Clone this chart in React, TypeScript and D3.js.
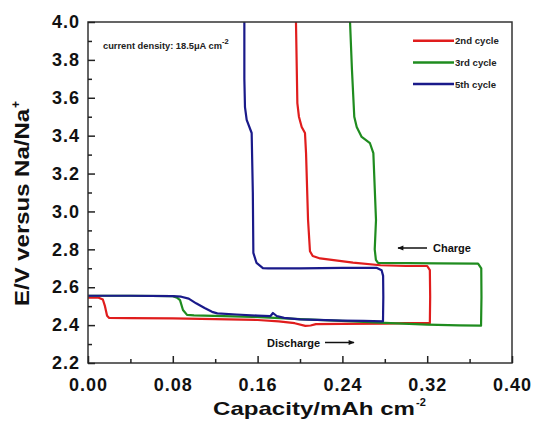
import React, { useRef, useEffect } from 'react';
import * as d3 from 'd3';

// capacity (mAh cm-2) / voltage (V) pairs
const cycle2DischargeCap = [0, 0.01, 0.014, 0.016, 0.018, 0.02, 0.04, 0.08, 0.12, 0.16, 0.18, 0.195, 0.205, 0.21, 0.215, 0.24, 0.28, 0.30, 0.3225];
const cycle2DischargeV = [2.545, 2.545, 2.535, 2.5, 2.45, 2.438, 2.437, 2.436, 2.432, 2.427, 2.42, 2.41, 2.396, 2.398, 2.405, 2.406, 2.408, 2.41, 2.41];
const cycle2ChargeCap = [0.3225, 0.3228, 0.3225, 0.32, 0.30, 0.276, 0.25, 0.219, 0.212, 0.2094, 0.2076, 0.2057, 0.2047, 0.2016, 0.199, 0.1975, 0.1962];
const cycle2ChargeV = [2.41, 2.55, 2.69, 2.712, 2.712, 2.716, 2.73, 2.752, 2.765, 2.79, 2.955, 3.308, 3.414, 3.446, 3.5, 3.572, 4.0];

const cycle3DischargeCap = [0, 0.04, 0.08, 0.084, 0.0868, 0.0896, 0.0934, 0.1, 0.155, 0.2, 0.25, 0.28, 0.32, 0.35, 0.3708];
const cycle3DischargeV = [2.555, 2.555, 2.553, 2.545, 2.532, 2.48, 2.454, 2.451, 2.444, 2.432, 2.42, 2.412, 2.403, 2.399, 2.397];
const cycle3ChargeCap = [0.3708, 0.3712, 0.371, 0.368, 0.33, 0.2736, 0.2716, 0.2705, 0.2717, 0.2692, 0.266, 0.2582, 0.2535, 0.2512, 0.249, 0.2472];
const cycle3ChargeV = [2.397, 2.55, 2.7, 2.725, 2.726, 2.728, 2.744, 2.8, 2.955, 3.308, 3.36, 3.393, 3.446, 3.5, 3.75, 4.0];

const cycle5DischargeCap = [0, 0.04, 0.08, 0.088, 0.095, 0.102, 0.11, 0.117, 0.122, 0.14, 0.16, 0.172, 0.1745, 0.178, 0.185, 0.2, 0.24, 0.26, 0.2783];
const cycle5DischargeV = [2.555, 2.555, 2.553, 2.55, 2.54, 2.515, 2.49, 2.47, 2.462, 2.456, 2.45, 2.447, 2.464, 2.448, 2.438, 2.43, 2.424, 2.422, 2.42];
const cycle5ChargeCap = [0.2783, 0.2786, 0.2784, 0.277, 0.2726, 0.24, 0.2, 0.17, 0.165, 0.159, 0.156, 0.1555, 0.1544, 0.1497, 0.1481, 0.1475, 0.1475];
const cycle5ChargeV = [2.42, 2.55, 2.66, 2.69, 2.702, 2.702, 2.7, 2.699, 2.701, 2.728, 2.781, 3.1, 3.414, 3.483, 3.551, 3.7, 4.0];

const seriesNames = ['2nd cycle', '3rd cycle', '5th cycle'];
const seriesColors = ['#e01d1d', '#1f8c1f', '#1a1a8a'];

const xTicks = [0, 0.08, 0.16, 0.24, 0.32, 0.40];
const yTicks = [2.2, 2.4, 2.6, 2.8, 3.0, 3.2, 3.4, 3.6, 3.8, 4.0];

const FONT = '"Liberation Sans", Arial, sans-serif';

const zip = (xs: number[], ys: number[]) => xs.map((x, i) => [x, ys[i]] as [number, number]);

const App = () => {
  const ref = useRef<SVGSVGElement>(null);

  useEffect(() => {
    if (!ref.current) return;
    const svg = d3.select(ref.current);
    svg.selectAll('*').remove();

    const left = 88, right = 512, top = 22, bottom = 363;
    const x = d3.scaleLinear().domain([0, 0.4]).range([left, right]);
    const y = d3.scaleLinear().domain([2.2, 4.0]).range([bottom, top]);

    const defs = svg.append('defs');
    defs.append('clipPath').attr('id', 'plot-clip')
      .append('rect').attr('x', left).attr('y', top).attr('width', right - left).attr('height', bottom - top);
    defs.append('marker').attr('id', 'arrow').attr('viewBox', '0 0 10 10')
      .attr('refX', 9).attr('refY', 5).attr('markerWidth', 8).attr('markerHeight', 6)
      .attr('markerUnits', 'userSpaceOnUse').attr('orient', 'auto')
      .append('path').attr('d', 'M0,1 L10,5 L0,9 Z').attr('fill', '#111');

    // curves: discharge then charge, joined into one path per cycle
    const line = d3.line<[number, number]>().x(d => x(d[0])).y(d => y(d[1]));
    const curves = [
      [zip(cycle2DischargeCap, cycle2DischargeV), zip(cycle2ChargeCap, cycle2ChargeV)],
      [zip(cycle3DischargeCap, cycle3DischargeV), zip(cycle3ChargeCap, cycle3ChargeV)],
      [zip(cycle5DischargeCap, cycle5DischargeV), zip(cycle5ChargeCap, cycle5ChargeV)],
    ];
    const g = svg.append('g').attr('clip-path', 'url(#plot-clip)');
    curves.forEach((pair, i) => {
      g.append('path').attr('d', line(pair[0].concat(pair[1].slice(1))))
        .attr('fill', 'none').attr('stroke', seriesColors[i]).attr('stroke-width', 2.2)
        .attr('stroke-linejoin', 'round');
    });

    // frame
    svg.append('rect').attr('x', left).attr('y', top).attr('width', right - left).attr('height', bottom - top)
      .attr('fill', 'none').attr('stroke', '#333').attr('stroke-width', 1.5);

    // x axis
    const xMinor = d3.range(0.04, 0.4, 0.08);
    svg.append('g').attr('transform', `translate(0,${bottom})`)
      .call(d3.axisBottom(x).tickValues(xMinor).tickSize(-4).tickFormat(() => ''))
      .call(a => a.select('.domain').remove())
      .selectAll('line').attr('stroke', '#222').attr('stroke-width', 1.5);
    const xa = svg.append('g').attr('transform', `translate(0,${bottom})`)
      .call(d3.axisBottom(x).tickValues(xTicks).tickSize(-7).tickPadding(14).tickFormat(d3.format('.2f')));
    xa.select('.domain').remove();
    xa.selectAll('line').attr('stroke', '#222').attr('stroke-width', 1.5);
    xa.selectAll('text').attr('font-family', FONT).attr('font-weight', 'bold').attr('font-size', 18)
      .attr('letter-spacing', 1).attr('fill', '#111').attr('dy', '0.75em');

    // y axis
    const yMinor = d3.range(2.3, 4.0, 0.2);
    svg.append('g').attr('transform', `translate(${left},0)`)
      .call(d3.axisLeft(y).tickValues(yMinor).tickSize(-4).tickFormat(() => ''))
      .call(a => a.select('.domain').remove())
      .selectAll('line').attr('stroke', '#222').attr('stroke-width', 1.5);
    const ya = svg.append('g').attr('transform', `translate(${left},0)`)
      .call(d3.axisLeft(y).tickValues(yTicks).tickSize(-7).tickPadding(14).tickFormat(d3.format('.1f')));
    ya.select('.domain').remove();
    ya.selectAll('line').attr('stroke', '#222').attr('stroke-width', 1.5);
    ya.selectAll('text').attr('font-family', FONT).attr('font-weight', 'bold').attr('font-size', 18)
      .attr('letter-spacing', 1).attr('fill', '#111').attr('dx', 6);

    // axis titles
    svg.append('text').attr('x', 213).attr('y', 415).attr('font-family', FONT).attr('font-weight', 'bold')
      .attr('font-size', 19).attr('textLength', 202).attr('lengthAdjust', 'spacingAndGlyphs')
      .attr('fill', '#111').text('Capacity/mAh cm');
    svg.append('text').attr('x', 416).attr('y', 406).attr('font-family', FONT).attr('font-weight', 'bold')
      .attr('font-size', 11).attr('fill', '#111').text('-2');

    const yt = svg.append('g').attr('transform', 'translate(29,208) rotate(-90)');
    yt.append('text').attr('x', -98).attr('y', 0).attr('font-family', FONT).attr('font-weight', 'bold')
      .attr('font-size', 20).attr('textLength', 197).attr('lengthAdjust', 'spacingAndGlyphs')
      .attr('fill', '#111').text('E/V versus Na/Na');
    yt.append('text').attr('x', 100).attr('y', -9).attr('font-family', FONT).attr('font-weight', 'bold')
      .attr('font-size', 12).attr('fill', '#111').text('+');

    // annotation
    const note = svg.append('text').attr('x', 103).attr('y', 49).attr('font-family', FONT)
      .attr('font-weight', 'bold').attr('font-size', 9.3).attr('fill', '#222');
    note.append('tspan').text('current density: 18.5μA cm');
    note.append('tspan').attr('dy', -5).attr('font-size', 7.5).attr('fill', '#111').text('-2');

    // legend
    seriesNames.forEach((name, i) => {
      const ly = 40.7 + i * 21.7;
      svg.append('line').attr('x1', 413).attr('x2', 454).attr('y1', ly).attr('y2', ly)
        .attr('stroke', seriesColors[i]).attr('stroke-width', 2.5);
      svg.append('text').attr('x', 455).attr('y', ly + 3.5).attr('font-family', FONT).attr('font-weight', 'bold')
        .attr('font-size', 9.6).attr('fill', '#222').text(name);
    });

    // charge / discharge labels
    svg.append('line').attr('x1', 427).attr('x2', 398).attr('y1', 248).attr('y2', 248)
      .attr('stroke', '#111').attr('stroke-width', 1.5).attr('marker-end', 'url(#arrow)');
    svg.append('text').attr('x', 433).attr('y', 252).attr('font-family', FONT).attr('font-weight', 'bold')
      .attr('font-size', 11).attr('fill', '#111').text('Charge');
    svg.append('text').attr('x', 267).attr('y', 346.5).attr('font-family', FONT).attr('font-weight', 'bold')
      .attr('font-size', 11).attr('fill', '#111').text('Discharge');
    svg.append('line').attr('x1', 325).attr('x2', 354).attr('y1', 342.5).attr('y2', 342.5)
      .attr('stroke', '#111').attr('stroke-width', 1.5).attr('marker-end', 'url(#arrow)');
  }, []);

  return (
    <svg ref={ref} width={534} height={427}
      style={{ position: 'absolute', left: 0, top: 0, background: '#fff' }} />
  );
};

export default App;
